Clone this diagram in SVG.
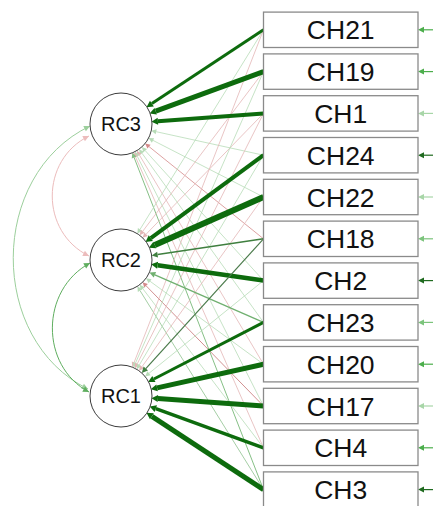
<svg xmlns="http://www.w3.org/2000/svg" width="433" height="506" viewBox="0 0 433 506">
  <style>
    .box { fill: #ffffff; stroke: #8a8a8a; stroke-width: 1.3; }
    .lat { fill: #ffffff; stroke: #3c3c3c; stroke-width: 1; }
    .lbl { font-family: "Liberation Sans", Arial, sans-serif; font-size: 26.5px; fill: #111111; text-anchor: middle; }
    .lbl-lat { font-family: "Liberation Sans", Arial, sans-serif; font-size: 20px; fill: #111111; text-anchor: middle; }
    .edge { fill: none; stroke-linecap: butt; }
    .main { stroke: #0d6b0d; }
    .faint-g { stroke: #b8dcb8; stroke-width: 0.8; }
    .faint-r { stroke: #e3b6b6; stroke-width: 0.8; }
    .resid { stroke-width: 1.2; }
  </style>
  <defs>
    <!-- loading arrowheads: origin at the base, tip 6px ahead -->
    <marker id="a-dk" markerUnits="userSpaceOnUse" markerWidth="8" markerHeight="10" refX="0" refY="4" orient="auto" overflow="visible">
      <path d="M0,0.5 L6.5,4 L0,7.5 z" fill="#0d6b0d"/>
    </marker>
    <marker id="a-dk2" markerUnits="userSpaceOnUse" markerWidth="8" markerHeight="10" refX="0" refY="4" orient="auto" overflow="visible">
      <path d="M0,1 L6,4 L0,7 z" fill="#3f7f3f"/>
    </marker>
    <marker id="a-mg" markerUnits="userSpaceOnUse" markerWidth="8" markerHeight="10" refX="0" refY="4" orient="auto" overflow="visible">
      <path d="M0,1 L6,4 L0,7 z" fill="#70b070"/>
    </marker>
    <marker id="a-g" markerUnits="userSpaceOnUse" markerWidth="8" markerHeight="10" refX="0" refY="4" orient="auto" overflow="visible">
      <path d="M0,1.5 L5,4 L0,6.5 z" fill="#86c086"/>
    </marker>
    <marker id="a-pg" markerUnits="userSpaceOnUse" markerWidth="8" markerHeight="10" refX="0" refY="4" orient="auto" overflow="visible">
      <path d="M0,1.5 L5,4 L0,6.5 z" fill="#b8dcb8"/>
    </marker>
    <marker id="a-pr" markerUnits="userSpaceOnUse" markerWidth="8" markerHeight="10" refX="0" refY="4" orient="auto" overflow="visible">
      <path d="M0,1.5 L5,4 L0,6.5 z" fill="#e3b6b6"/>
    </marker>
    <marker id="a-r" markerUnits="userSpaceOnUse" markerWidth="8" markerHeight="10" refX="0" refY="4" orient="auto" overflow="visible">
      <path d="M0,1.5 L5,4 L0,6.5 z" fill="#d48a8a"/>
    </marker>
    <!-- residual arrowheads -->
    <marker id="r-dk" markerUnits="userSpaceOnUse" markerWidth="8" markerHeight="10" refX="0" refY="4" orient="auto" overflow="visible">
      <path d="M0,1 L6,4 L0,7 z" fill="#1f6a1f"/>
    </marker>
    <marker id="r-md" markerUnits="userSpaceOnUse" markerWidth="8" markerHeight="10" refX="0" refY="4" orient="auto" overflow="visible">
      <path d="M0,1 L6,4 L0,7 z" fill="#4cae4c"/>
    </marker>
    <marker id="r-ml" markerUnits="userSpaceOnUse" markerWidth="8" markerHeight="10" refX="0" refY="4" orient="auto" overflow="visible">
      <path d="M0,1 L6,4 L0,7 z" fill="#7cc47c"/>
    </marker>
    <marker id="r-lt" markerUnits="userSpaceOnUse" markerWidth="8" markerHeight="10" refX="0" refY="4" orient="auto" overflow="visible">
      <path d="M0,1 L6,4 L0,7 z" fill="#a8d6a8"/>
    </marker>
    <!-- covariance arrowheads (tip at the path end) -->
    <marker id="c-lg" markerUnits="userSpaceOnUse" markerWidth="8" markerHeight="10" refX="6" refY="4" orient="auto-start-reverse" overflow="visible">
      <path d="M0,1 L6,4 L0,7 z" fill="#9ccf9c"/>
    </marker>
    <marker id="c-pk" markerUnits="userSpaceOnUse" markerWidth="8" markerHeight="10" refX="6" refY="4" orient="auto-start-reverse" overflow="visible">
      <path d="M0,1 L6,4 L0,7 z" fill="#ecbcbc"/>
    </marker>
    <marker id="c-g" markerUnits="userSpaceOnUse" markerWidth="8" markerHeight="10" refX="6" refY="4" orient="auto-start-reverse" overflow="visible">
      <path d="M0,1 L6,4 L0,7 z" fill="#5fae5f"/>
    </marker>
  </defs>

  <g id="connectors">
    <!-- factor covariances -->
    <path class="edge" d="M90,126 C -12,175 -12,340 88,389" stroke="#9ccf9c" stroke-width="1" marker-start="url(#c-lg)" marker-end="url(#c-lg)"/>
    <path class="edge" d="M89,136 C 40,160 40,232 89,256" stroke="#ecbcbc" stroke-width="1" marker-start="url(#c-pk)" marker-end="url(#c-pk)"/>
    <path class="edge" d="M90,263 C 40,290 40,366 89,392" stroke="#5fae5f" stroke-width="1" marker-start="url(#c-g)" marker-end="url(#c-g)"/>

    <!-- weak cross-loadings -->
    <g class="cross">
      <line class="edge faint-g" x1="263.5" y1="155.2" x2="156.2" y2="131.7" marker-end="url(#a-pg)"/>
      <line class="edge faint-g" x1="263.5" y1="197.0" x2="153.0" y2="140.4" marker-end="url(#a-pg)"/>
      <line class="edge" x1="263.5" y1="238.8" x2="149.0" y2="146.6" stroke="#d48a8a" stroke-width="0.8" marker-end="url(#a-r)"/>
      <line class="edge faint-g" x1="263.5" y1="280.6" x2="145.2" y2="150.6" marker-end="url(#a-pg)"/>
      <line class="edge faint-g" x1="263.5" y1="322.4" x2="142.0" y2="153.2" marker-end="url(#a-pg)"/>
      <line class="edge faint-r" x1="263.5" y1="364.2" x2="139.4" y2="155.0" marker-end="url(#a-pr)"/>
      <line class="edge faint-g" x1="263.5" y1="406.0" x2="137.2" y2="156.1" marker-end="url(#a-pg)"/>
      <line class="edge faint-r" x1="263.5" y1="447.8" x2="135.5" y2="156.9" marker-end="url(#a-pr)"/>
      <line class="edge" x1="263.5" y1="489.6" x2="134.1" y2="157.5" stroke="#86c086" stroke-width="1" marker-end="url(#a-g)"/>

      <line class="edge faint-g" x1="263.5" y1="29.8" x2="140.0" y2="229.4" marker-end="url(#a-pg)"/>
      <line class="edge faint-r" x1="263.5" y1="71.6" x2="142.7" y2="231.3" marker-end="url(#a-pr)"/>
      <line class="edge faint-r" x1="263.5" y1="113.4" x2="146.1" y2="234.2" marker-end="url(#a-pr)"/>
      <line class="edge faint-g" x1="263.5" y1="364.2" x2="150.1" y2="281.3" marker-end="url(#a-pg)"/>
      <line class="edge" x1="263.5" y1="406.0" x2="146.1" y2="285.8" stroke="#cc8484" stroke-width="0.9" marker-end="url(#a-r)"/>
      <line class="edge faint-g" x1="263.5" y1="447.8" x2="142.8" y2="288.7" marker-end="url(#a-pg)"/>
      <line class="edge" x1="263.5" y1="489.6" x2="140.0" y2="290.6" stroke="#9bc89b" stroke-width="0.9" marker-end="url(#a-pg)"/>

      <line class="edge faint-r" x1="263.5" y1="29.8" x2="134.1" y2="362.4" marker-end="url(#a-pr)"/>
      <line class="edge faint-g" x1="263.5" y1="71.6" x2="135.5" y2="363.0" marker-end="url(#a-pg)"/>
      <line class="edge faint-r" x1="263.5" y1="113.4" x2="137.2" y2="363.9" marker-end="url(#a-pr)"/>
      <line class="edge faint-g" x1="263.5" y1="155.2" x2="139.3" y2="365.0" marker-end="url(#a-pg)"/>
      <line class="edge faint-r" x1="263.5" y1="197.0" x2="142.0" y2="366.7" marker-end="url(#a-pr)"/>
      <line class="edge faint-g" x1="263.5" y1="280.6" x2="149.0" y2="373.3" marker-end="url(#a-pg)"/>
    </g>

    <!-- primary loadings -->
    <g class="loadings">
      <line class="edge main" x1="263.5" y1="29.8" x2="151.9" y2="103.6" stroke-width="3" marker-end="url(#a-dk)"/>
      <line class="edge main" x1="263.5" y1="71.6" x2="155.7" y2="111.2" stroke-width="5" marker-end="url(#a-dk)"/>
      <line class="edge main" x1="263.5" y1="113.4" x2="157.9" y2="121.3" stroke-width="4" marker-end="url(#a-dk)"/>

      <line class="edge main" x1="263.5" y1="155.2" x2="150.8" y2="238.1" stroke-width="4" marker-end="url(#a-dk)"/>
      <line class="edge main" x1="263.5" y1="197.0" x2="154.8" y2="245.0" stroke-width="6" marker-end="url(#a-dk)"/>
      <line class="edge" x1="263.5" y1="238.8" x2="157.6" y2="254.6" stroke="#3f7f3f" stroke-width="1.5" marker-end="url(#a-dk2)"/>
      <line class="edge main" x1="263.5" y1="280.6" x2="157.6" y2="265.3" stroke-width="4.5" marker-end="url(#a-dk)"/>
      <line class="edge" x1="263.5" y1="322.4" x2="154.9" y2="274.8" stroke="#70b070" stroke-width="1.3" marker-end="url(#a-mg)"/>

      <line class="edge" x1="263.5" y1="238.8" x2="145.8" y2="368.6" stroke="#4a7a4a" stroke-width="1.2" marker-end="url(#a-dk2)"/>
      <line class="edge main" x1="263.5" y1="322.4" x2="153.9" y2="379.0" stroke-width="3" marker-end="url(#a-dk)"/>
      <line class="edge main" x1="263.5" y1="364.2" x2="157.1" y2="387.9" stroke-width="5" marker-end="url(#a-dk)"/>
      <line class="edge main" x1="263.5" y1="406.0" x2="157.9" y2="398.6" stroke-width="5" marker-end="url(#a-dk)"/>
      <line class="edge main" x1="263.5" y1="447.8" x2="155.8" y2="408.6" stroke-width="3.5" marker-end="url(#a-dk)"/>
      <line class="edge main" x1="263.5" y1="489.6" x2="151.9" y2="416.3" stroke-width="5" marker-end="url(#a-dk)"/>
    </g>

    <!-- residual variances -->
    <g class="residuals">
      <line class="edge resid" x1="433" y1="29.8" x2="424" y2="29.8" stroke="#4cae4c" marker-end="url(#r-md)"/>
      <line class="edge resid" x1="433" y1="71.6" x2="424" y2="71.6" stroke="#4cae4c" marker-end="url(#r-md)"/>
      <line class="edge resid" x1="433" y1="113.4" x2="424" y2="113.4" stroke="#a8d6a8" marker-end="url(#r-lt)"/>
      <line class="edge resid" x1="433" y1="155.2" x2="424" y2="155.2" stroke="#1f6a1f" marker-end="url(#r-dk)"/>
      <line class="edge resid" x1="433" y1="197.0" x2="424" y2="197.0" stroke="#a8d6a8" marker-end="url(#r-lt)"/>
      <line class="edge resid" x1="433" y1="238.8" x2="424" y2="238.8" stroke="#7cc47c" marker-end="url(#r-ml)"/>
      <line class="edge resid" x1="433" y1="280.6" x2="424" y2="280.6" stroke="#1f6a1f" marker-end="url(#r-dk)"/>
      <line class="edge resid" x1="433" y1="322.4" x2="424" y2="322.4" stroke="#7cc47c" marker-end="url(#r-ml)"/>
      <line class="edge resid" x1="433" y1="364.2" x2="424" y2="364.2" stroke="#4cae4c" marker-end="url(#r-md)"/>
      <line class="edge resid" x1="433" y1="406.0" x2="424" y2="406.0" stroke="#a8d6a8" marker-end="url(#r-lt)"/>
      <line class="edge resid" x1="433" y1="447.8" x2="424" y2="447.8" stroke="#4cae4c" marker-end="url(#r-md)"/>
      <line class="edge resid" x1="433" y1="489.6" x2="424" y2="489.6" stroke="#1f6a1f" marker-end="url(#r-dk)"/>
    </g>
  </g>

  <!-- latent factors -->
  <g id="RC3"><circle class="lat" cx="121" cy="124" r="31"/><text class="lbl-lat" x="121" y="131.3">RC3</text></g>
  <g id="RC2"><circle class="lat" cx="121" cy="260" r="31"/><text class="lbl-lat" x="121" y="267.3">RC2</text></g>
  <g id="RC1"><circle class="lat" cx="121" cy="396" r="31"/><text class="lbl-lat" x="121" y="403.3">RC1</text></g>

  <!-- observed items -->
  <g id="CH21"><rect class="box" x="263.5" y="12.1" width="154.5" height="35.4"/><text class="lbl" x="340.75" y="39.3">CH21</text></g>
  <g id="CH19"><rect class="box" x="263.5" y="53.9" width="154.5" height="35.4"/><text class="lbl" x="340.75" y="81.1">CH19</text></g>
  <g id="CH1"><rect class="box" x="263.5" y="95.7" width="154.5" height="35.4"/><text class="lbl" x="340.75" y="122.9">CH1</text></g>
  <g id="CH24"><rect class="box" x="263.5" y="137.5" width="154.5" height="35.4"/><text class="lbl" x="340.75" y="164.7">CH24</text></g>
  <g id="CH22"><rect class="box" x="263.5" y="179.3" width="154.5" height="35.4"/><text class="lbl" x="340.75" y="206.5">CH22</text></g>
  <g id="CH18"><rect class="box" x="263.5" y="221.1" width="154.5" height="35.4"/><text class="lbl" x="340.75" y="248.3">CH18</text></g>
  <g id="CH2"><rect class="box" x="263.5" y="262.9" width="154.5" height="35.4"/><text class="lbl" x="340.75" y="290.1">CH2</text></g>
  <g id="CH23"><rect class="box" x="263.5" y="304.7" width="154.5" height="35.4"/><text class="lbl" x="340.75" y="331.9">CH23</text></g>
  <g id="CH20"><rect class="box" x="263.5" y="346.5" width="154.5" height="35.4"/><text class="lbl" x="340.75" y="373.7">CH20</text></g>
  <g id="CH17"><rect class="box" x="263.5" y="388.3" width="154.5" height="35.4"/><text class="lbl" x="340.75" y="415.5">CH17</text></g>
  <g id="CH4"><rect class="box" x="263.5" y="430.1" width="154.5" height="35.4"/><text class="lbl" x="340.75" y="457.3">CH4</text></g>
  <g id="CH3"><rect class="box" x="263.5" y="471.9" width="154.5" height="35.4"/><text class="lbl" x="340.75" y="499.1">CH3</text></g>
</svg>
